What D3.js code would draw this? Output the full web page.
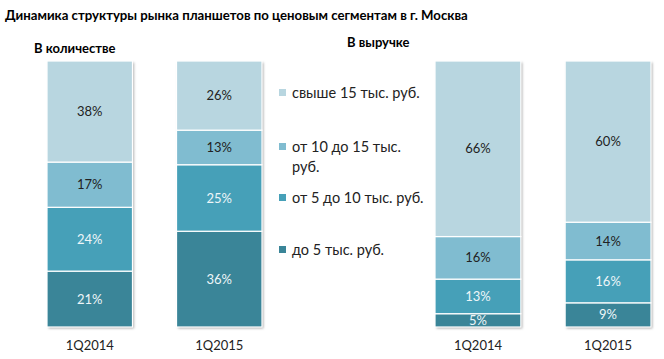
<!DOCTYPE html>
<html><head><meta charset="utf-8">
<script src="https://cdn.jsdelivr.net/npm/d3@7"></script>
<style>body{margin:0;background:#fff}svg{display:block}</style>
</head><body>
<svg id="c" width="664" height="359"></svg>
<script>
const title = "Динамика структуры рынка планшетов по ценовым сегментам в г. Москва";
const periods = ["1Q2014", "1Q2015"];
const segments = ["до 5 тыс. руб.", "от 5 до 10 тыс. руб.", "от 10 до 15 тыс. руб.", "свыше 15 тыс. руб."];
const legendLines = [["до 5 тыс. руб."], ["от 5 до 10 тыс. руб."], ["от 10 до 15 тыс.", "руб."], ["свыше 15 тыс. руб."]];
const colors = ["#3a8598", "#46a0b8", "#80bcd0", "#b8d6e0"];
const labelColors = ["#eef6f8", "#eef6f8", "#222", "#222"];
const qtyTitle = "В количестве";
const qtyValues = [[21, 24, 17, 38], [36, 25, 13, 26]];
const revTitle = "В выручке";
const revValues = [[5, 13, 16, 66], [9, 16, 14, 60]];

const svg = d3.select("#c");
const font = "Lato, 'Open Sans', sans-serif";

const defs = svg.append("defs");
const f = defs.append("filter").attr("id","sh").attr("x","-10%").attr("y","-10%").attr("width","130%").attr("height","130%");
f.append("feDropShadow").attr("dx",1.5).attr("dy",1.5).attr("stdDeviation",1).attr("flood-color","#000").attr("flood-opacity",0.3);

svg.append("text").attr("x",5).attr("y",20).attr("font-family",font).attr("font-weight","bold")
  .attr("font-size",13.2).attr("fill","#000").text(title);

const y = d3.scaleLinear().domain([0,1]).range([327, 61]);

function drawChart(values, xRange, head, hx, hy) {
  svg.append("text").attr("x",hx).attr("y",hy).attr("font-family",font).attr("font-weight","bold")
    .attr("font-size",13).attr("fill","#000").text(head);
  const x = d3.scaleBand().domain(periods).range(xRange).paddingInner(0.34).paddingOuter(0);
  const rows = periods.map((p,i)=>{const o={period:p}; segments.forEach((s,j)=>o[s]=values[i][j]); return o;});
  const stack = d3.stack().keys(segments).offset(d3.stackOffsetExpand)(rows);
  const g = svg.append("g");
  periods.forEach(p=>{
    g.append("rect").attr("x",x(p)).attr("y",y(1)).attr("width",x.bandwidth()).attr("height",y(0)-y(1))
      .attr("fill","#fff").attr("filter","url(#sh)");
  });
  stack.forEach((layer,j)=>{
    layer.forEach((d,i)=>{
      const p = periods[i];
      g.append("rect").attr("x",x(p)).attr("y",y(d[1])).attr("width",x.bandwidth())
        .attr("height",Math.max(0,y(d[0])-y(d[1])))
        .attr("fill",colors[j]).attr("stroke","#fff").attr("stroke-width",1.2);
      g.append("text").attr("x",x(p)+x.bandwidth()/2).attr("y",(y(d[0])+y(d[1]))/2)
        .attr("dy","0.35em").attr("text-anchor","middle").attr("font-family",font)
        .attr("font-size",13).attr("fill",labelColors[j]).text(values[i][j]+"%");
    });
  });
  const ax = svg.append("g").attr("transform","translate(0,345)")
    .call(d3.axisBottom(x).tickSize(0).tickPadding(0));
  ax.select(".domain").remove();
  ax.selectAll("text").attr("font-family",font).attr("font-size",13).attr("fill","#222").attr("dy","0.35em");
}

drawChart(qtyValues, [47, 262], qtyTitle, 34, 53);
drawChart(revValues, [435, 651], revTitle, 347, 47);

const legendY = [250, 198, 147, 93];
const lg = svg.append("g");
segments.forEach((s,j)=>{
  lg.append("rect").attr("x",279).attr("y",legendY[j]-4).attr("width",7).attr("height",7).attr("fill",colors[j]);
  legendLines[j].forEach((line,k)=>{
    lg.append("text").attr("x",292).attr("y",legendY[j]+k*20).attr("dy","0.35em")
      .attr("font-family",font).attr("font-size",14.5).attr("fill","#222").text(line);
  });
});
</script>
</body></html>
